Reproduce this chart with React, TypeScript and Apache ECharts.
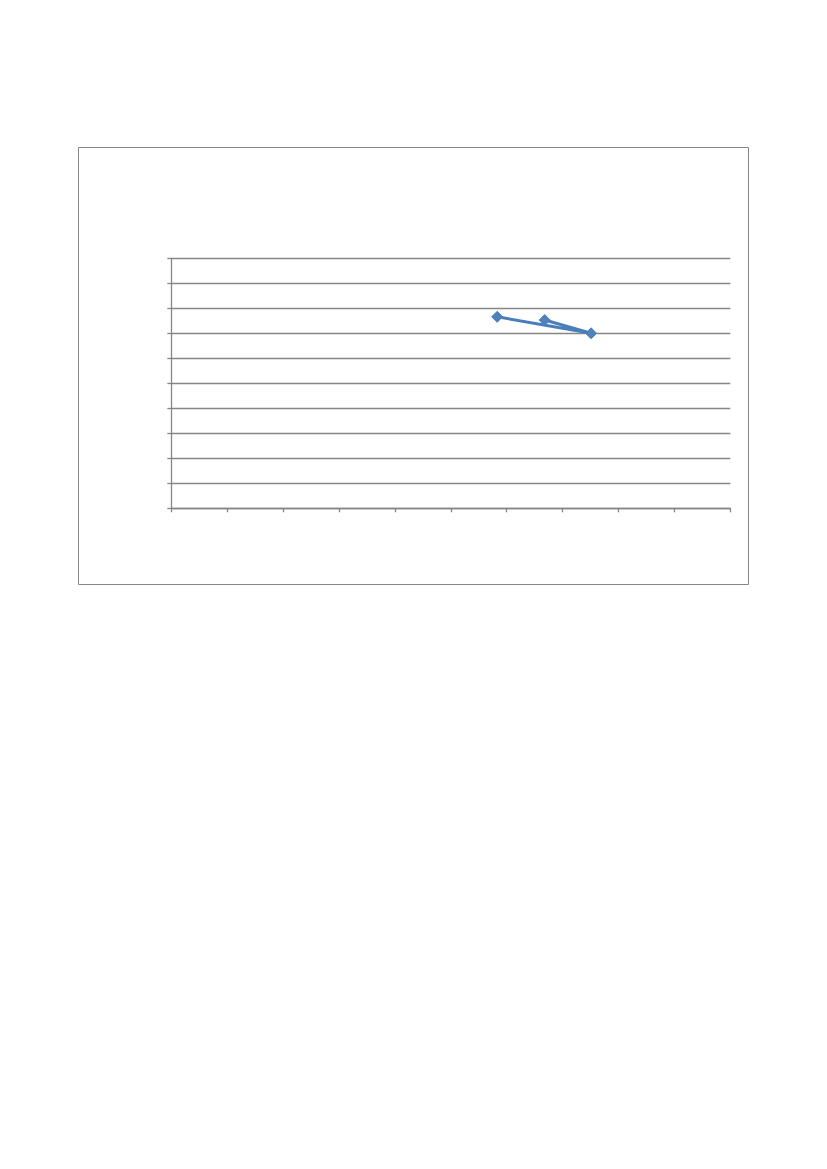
import { useEffect, useRef } from 'react';
import * as echarts from 'echarts';

// 数据点（按连线顺序），坐标轴无刻度标签，取 0–10 的刻度
const xValues = [5.83, 7.51, 6.68];
const yValues = [7.66, 7.0, 7.53];

const X_MIN = 0;
const X_MAX = 10;
const Y_MIN = 0;
const Y_MAX = 10;

const GREY = '#868686';
const BLUE = '#4a7ebb';

export default function App() {
  const chartRef = useRef<HTMLDivElement>(null);

  useEffect(() => {
    if (!chartRef.current) return;
    const chart = echarts.init(chartRef.current, undefined, { renderer: 'svg' });

    const option = {
      animation: false,
      backgroundColor: '#ffffff',
      graphic: [
        {
          type: 'rect',
          shape: { x: 78.5, y: 147.5, width: 670, height: 437 },
          style: { fill: 'none', stroke: GREY, lineWidth: 1 },
          silent: true,
        },
      ],
      grid: { left: 171.3, top: 258.3, right: 96.7, bottom: 660.7, containLabel: false },
      xAxis: {
        type: 'value' as const,
        min: X_MIN,
        max: X_MAX,
        interval: 1,
        axisLine: { show: true, onZero: false, lineStyle: { color: GREY, width: 1.3 } },
        axisTick: { show: true, length: 4, lineStyle: { color: GREY, width: 1.3 } },
        axisLabel: { show: false },
        splitLine: { show: false },
      },
      yAxis: {
        type: 'value' as const,
        min: Y_MIN,
        max: Y_MAX,
        interval: 1,
        axisLine: { show: true, onZero: false, lineStyle: { color: GREY, width: 1.3 } },
        axisTick: { show: true, length: 4, lineStyle: { color: GREY, width: 1.3 } },
        axisLabel: { show: false },
        splitLine: { show: true, lineStyle: { color: GREY, width: 1.3 } },
      },
      series: [
        {
          type: 'line' as const,
          data: xValues.map((x, i) => [x, yValues[i]]),
          symbol: 'diamond',
          symbolSize: 11,
          itemStyle: { color: '#4f81bd', borderColor: BLUE, borderWidth: 1 },
          lineStyle: { color: BLUE, width: 3 },
        },
      ],
    };

    chart.setOption(option as echarts.EChartsOption);
    return () => chart.dispose();
  }, []);

  return (
    <div
      ref={chartRef}
      style={{ position: 'absolute', left: 0, top: 0, width: 827, height: 1169 }}
    />
  );
}
